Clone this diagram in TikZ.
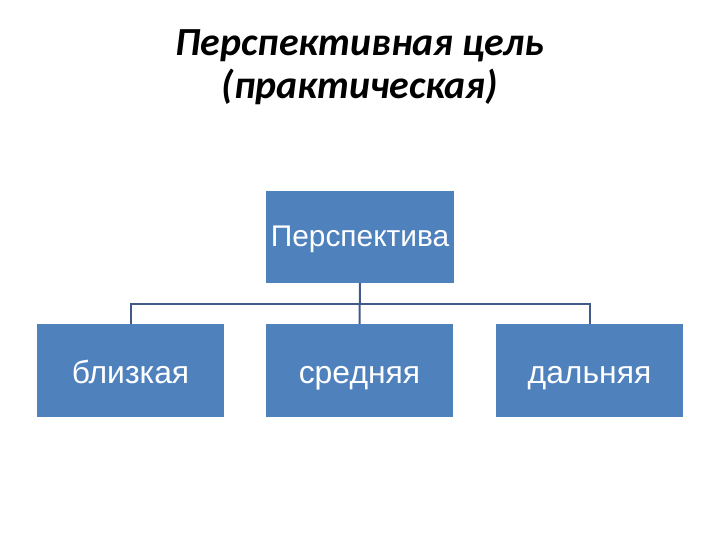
\documentclass[tikz,border=0pt]{standalone}
\usepackage{fontspec}
\setmainfont{Carlito}
\newfontfamily\boxfont{Liberation Sans}
\usepackage{tikz}
\usetikzlibrary{positioning,calc}
\definecolor{boxblue}{RGB}{79,129,189}
\definecolor{linkblue}{RGB}{66,90,135}
\tikzset{
  titlebox/.style={align=center, font=\fontsize{40}{43}\selectfont\bfseries\itshape},
  topbox/.style={fill=boxblue, minimum width=188bp, minimum height=92bp, inner sep=0pt, text=white, text height=20bp, text depth=0pt, font=\boxfont\fontsize{30}{34}\selectfont},
  leafbox/.style={fill=boxblue, minimum width=187bp, minimum height=93bp, inner sep=0pt, text=white, text height=25bp, text depth=0pt, font=\boxfont\fontsize{32}{36}\selectfont},
  link/.style={draw=linkblue, line width=2bp}
}

\begin{document}
\begin{tikzpicture}[x=1bp, y=-1bp]
  \useasboundingbox (0,0) rectangle (720,540);
  \node[titlebox] (title) at (360,67) {Перспективная цель\\(практическая)};
  \node[topbox] (top) at (360,237) {Перспектива};
  \node[leafbox] (near) at (130.5,370.5) {близкая};
  \node[leafbox] (mid) at (359.5,370.5) {средняя};
  \node[leafbox] (far) at (589.5,370.5) {дальняя};
  \coordinate (bus) at ($(top.south)!0.5!(mid.north)$);
  \draw[link] (top.south) -- (mid.north);
  \draw[link] (bus) -| (near.north);
  \draw[link] (bus) -| (far.north);
\end{tikzpicture}
\end{document}
